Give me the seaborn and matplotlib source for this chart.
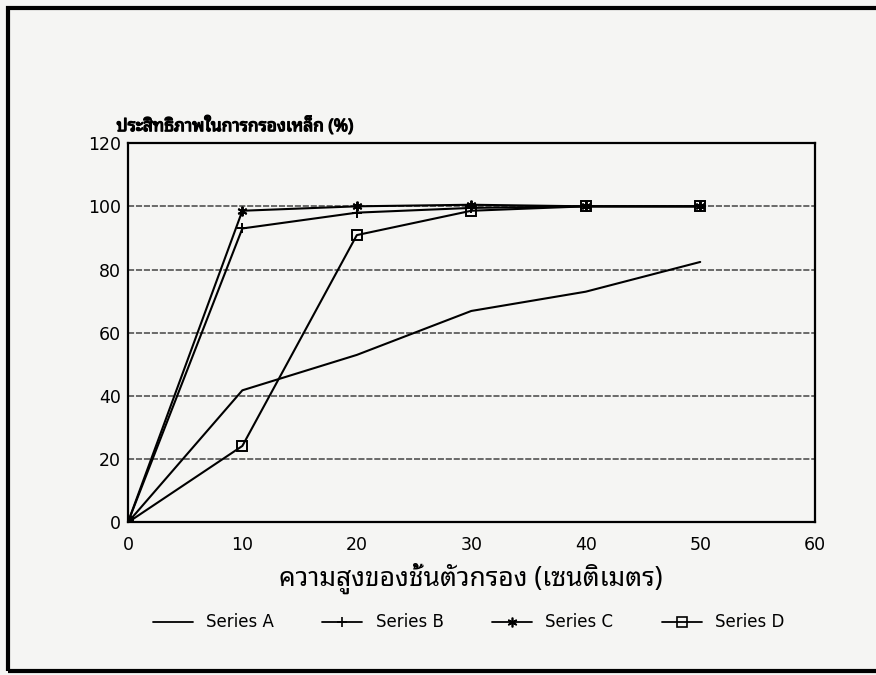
import matplotlib
matplotlib.use("Agg")
import matplotlib.pyplot as plt
import matplotlib.patches as mpatches
import matplotlib.patheffects as pe
from matplotlib import font_manager
from matplotlib.ft2font import FT2Font
import seaborn as sns
import pandas as pd

# ---- data ----
heights = [0, 10, 20, 30, 40, 50]
series_a = [0, 41.8, 53, 66.9, 73, 82.4]
series_b = [0, 93, 98, 99.5, 100, 100]
series_c = [0, 98.6, 100, 100.5, 100, 100]
series_d = [0, 24.2, 90.9, 98.6, 100, 100]
series_names = ["Series A", "Series B", "Series C", "Series D"]
x_ticks = [0, 10, 20, 30, 40, 50, 60]
y_ticks = [0, 20, 40, 60, 80, 100, 120]
title_text = "ประสิทธิภาพในการกรองเหล็ก (%)"
xlabel_text = "ความสูงของชั้นตัวกรอง (เซนติเมตร)"

# ---- find a Thai-capable font ----
thai_font = None
preferred = ["Noto Sans Thai", "Noto Serif Thai", "Loma", "Garuda", "Norasi", "Tlwg"]
cands = []
for f in font_manager.fontManager.ttflist:
    try:
        cm = FT2Font(f.fname).get_charmap()
        if 0x0E01 in cm and 0x0E2A in cm:
            cands.append(f.name)
    except Exception:
        pass
for p in preferred:
    for c in cands:
        if c.startswith(p):
            thai_font = c
            break
    if thai_font:
        break
if thai_font is None and cands:
    thai_font = cands[0]

sns.set_theme(style="white")
families = ([thai_font] if thai_font else []) + ["DejaVu Sans"]
plt.rcParams["font.family"] = families
plt.rcParams["text.color"] = "black"
plt.rcParams["xtick.color"] = "black"
plt.rcParams["ytick.color"] = "black"
plt.rcParams["axes.labelcolor"] = "black"

df = pd.DataFrame({
    "x": heights * 4,
    "y": series_a + series_b + series_c + series_d,
    "series": sum([[n] * len(heights) for n in series_names], []),
})

bg = "#f5f5f3"
fig = plt.figure(figsize=(8.76, 6.75), dpi=100)
fig.patch.set_facecolor(bg)
ax = fig.add_axes([0.146, 0.226, 0.784, 0.562])
ax.set_facecolor(bg)

markers = {"Series A": None, "Series B": "+", "Series C": (6, 2, 0), "Series D": "s"}
for n in series_names:
    sub = df[df["series"] == n]
    sns.lineplot(data=sub, x="x", y="y", color="black", ax=ax,
                 linewidth=1.5, marker=markers[n], markersize=7, markeredgewidth=1.4,
                 markerfacecolor="none", markeredgecolor="black", legend=False)

ax.set_xlim(0, 60)
ax.set_ylim(0, 120)
ax.set_xticks(x_ticks)
ax.set_yticks(y_ticks)
tick_font = {"family": "DejaVu Sans", "size": 12.5, "color": "black"}
ax.set_xticklabels([str(t) for t in x_ticks], fontdict=tick_font)
ax.set_yticklabels([str(t) for t in y_ticks], fontdict=tick_font)
for yv in y_ticks[1:-1]:
    ax.axhline(yv, color="#444444", lw=1.1, ls=(0, (4, 1.2)), zorder=0)
for s in ax.spines.values():
    s.set_color("black")
    s.set_linewidth(1.6)
ax.tick_params(axis="x", direction="in", length=5, width=1, color="black", pad=10)
ax.tick_params(axis="y", length=0, pad=5)
ax.set_xlabel(xlabel_text, fontsize=19, labelpad=6, color="black")
ax.set_ylabel("")
ax.text(-1, 122.5, title_text, fontsize=12.5, fontweight="bold", ha="left", va="bottom",
        color="black", path_effects=[pe.withStroke(linewidth=0.9, foreground="black")])

# legend
handles = []
for n in series_names:
    m = markers[n]
    h = plt.Line2D([], [], color="black", lw=1.3, marker=m,
                   markersize=7, markerfacecolor="none", markeredgewidth=1.2)
    handles.append(h)
leg = fig.legend(handles, series_names, loc="center", bbox_to_anchor=(0.535, 0.078), ncol=4,
                 frameon=False, handlelength=2.4, columnspacing=2.9, handletextpad=0.8,
                 prop={"family": "DejaVu Sans", "size": 12})
for t in leg.get_texts():
    t.set_color("black")

# outer frame (open on the right, as in the scan)
fig.add_artist(mpatches.Rectangle((0.009, 0.006), 1.05, 0.982, transform=fig.transFigure,
                                  fill=False, edgecolor="black", lw=3, clip_on=False))

fig.savefig("out.png", dpi=100, facecolor=fig.get_facecolor())
